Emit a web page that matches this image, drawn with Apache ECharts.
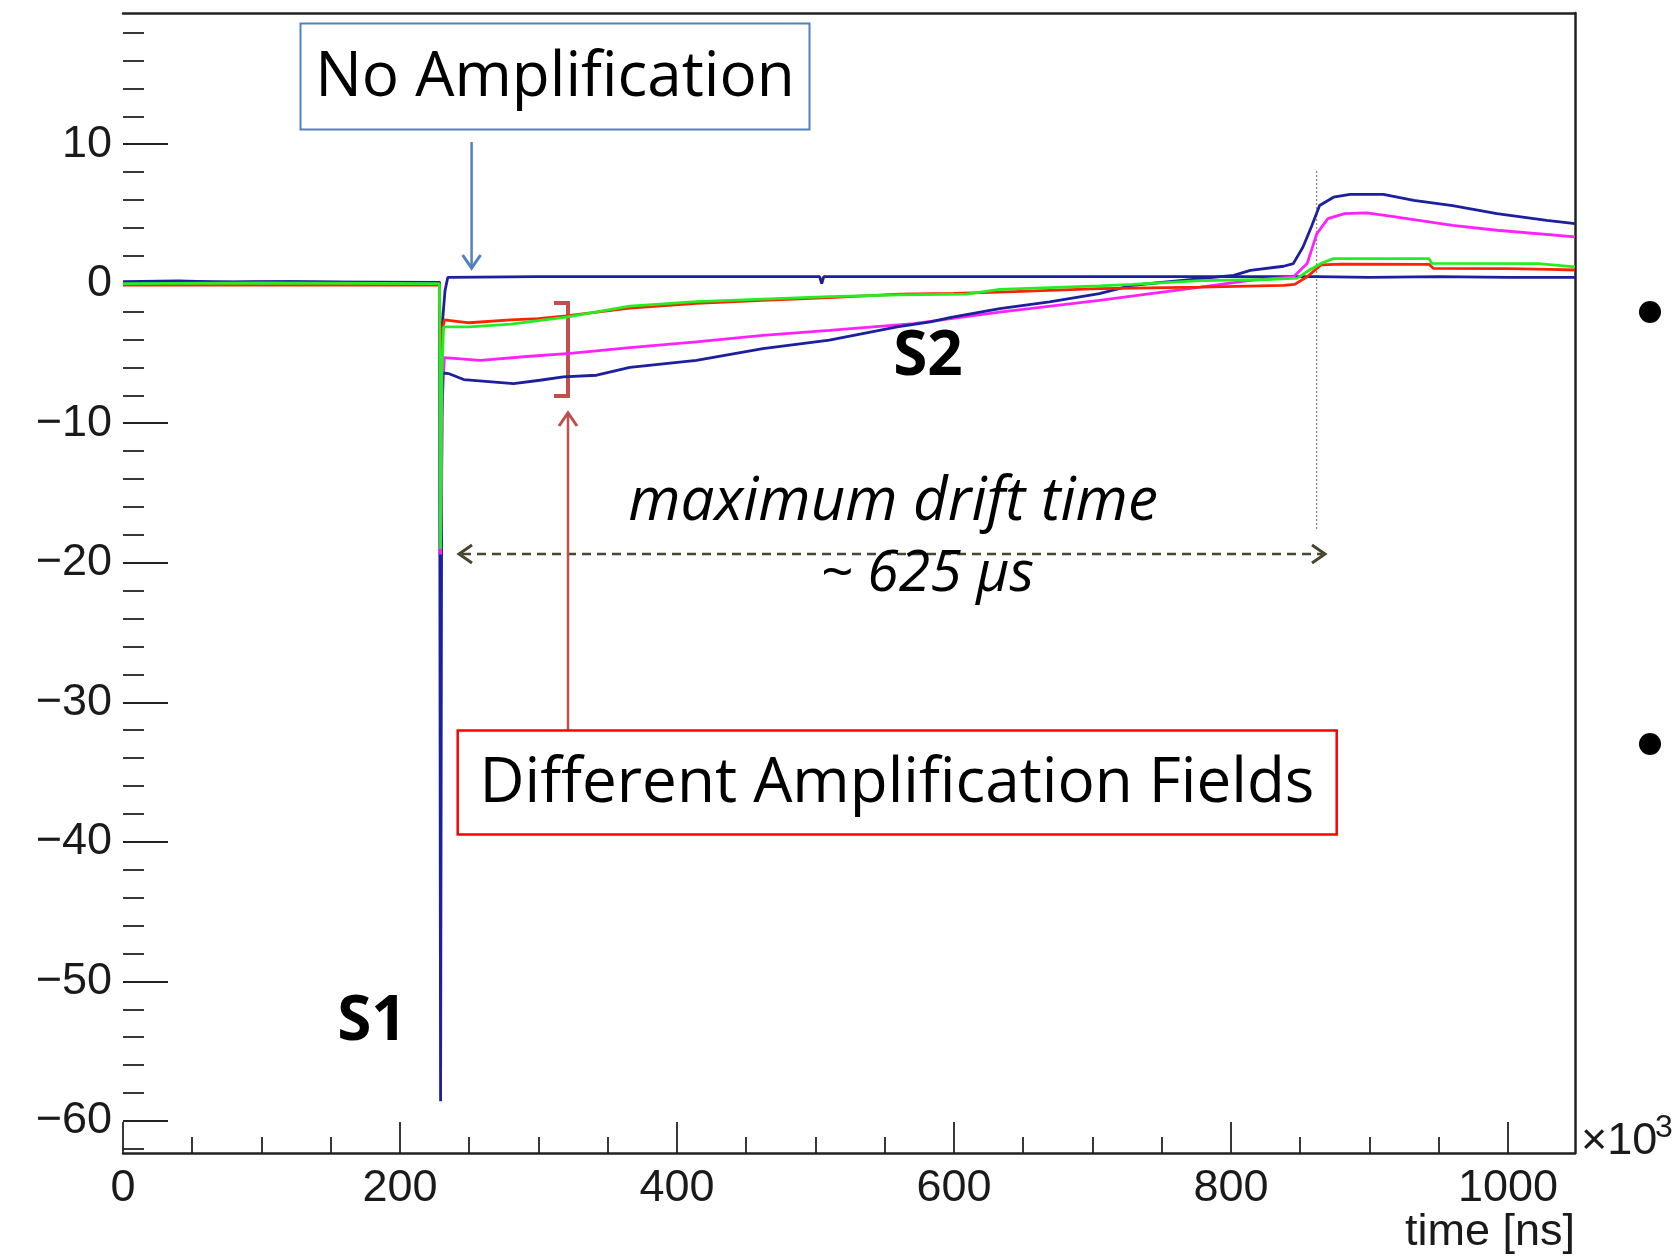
<!DOCTYPE html>
<html lang="en">
<head>
  <meta charset="UTF-8">
  <title>S1 / S2 waveforms</title>
  <script src="https://cdn.jsdelivr.net/npm/echarts/dist/echarts.min.js"></script>
  <style>
    html, body { margin: 0; padding: 0; background: #fff; }
    #chart { width: 1677px; height: 1256px; }
  </style>
</head>
<body>
  <div id="chart"></div>
  <script>
    // time in units of 10^3 ns, amplitude in arbitrary units
    const noAmp = [[0, 0.15], [40, 0.2], [80, 0.1], [120, 0.15], [160, 0.1], [200, 0.1], [228.5, 0.1],
      [229.3, -58.6], [230.3, -3.2], [232.5, -0.5], [234.5, 0.45], [300, 0.5], [400, 0.5], [503, 0.5],
      [504.5, 0.0], [506, 0.5], [600, 0.5], [700, 0.5], [800, 0.5], [862, 0.5], [900, 0.45], [950, 0.5],
      [1000, 0.45], [1048.4, 0.45]]
    const ampLow = [[0, -0.1], [100, -0.1], [228.5, -0.1], [229.3, -6.0], [230.3, -3.6], [232, -2.6],
      [250, -2.8], [280, -2.6], [300, -2.5], [320, -2.3], [366, -1.75], [414, -1.4], [462, -1.2],
      [510, -1.0], [561, -0.75], [600, -0.7], [633, -0.6], [705, -0.35], [778, -0.25], [838, -0.12],
      [846, -0.05], [855, 0.5], [865, 1.35], [880, 1.4], [943, 1.39], [946, 1.1], [1000, 1.08],
      [1030, 1.02], [1048.4, 0.98]]
    const ampMid = [[0, 0], [100, 0.05], [228.5, 0], [229.3, -19.0], [230.3, -6.2], [231.5, -3.1],
      [250, -3.1], [280, -2.9], [320, -2.4], [366, -1.6], [414, -1.28], [462, -1.1], [510, -0.92],
      [561, -0.8], [609, -0.75], [633, -0.4], [705, -0.15], [729, -0.05], [778, 0.22], [826, 0.3],
      [848, 0.4], [857, 1.0], [866, 1.5], [874, 1.8], [943, 1.8], [945, 1.45], [1022, 1.44], [1048.4, 1.2]]
    const ampHigh = [[0, 0.1], [100, 0.1], [228.5, 0.1], [229.3, -19.4], [230.8, -8], [232, -5.3],
      [258, -5.5], [294, -5.2], [323, -5.0], [366, -4.58], [414, -4.17], [462, -3.7], [510, -3.34],
      [571, -2.86], [633, -2.03], [705, -1.19], [778, -0.24], [814, 0.24], [845, 0.48], [855, 1.44],
      [862, 3.59], [870, 4.66], [882, 5.02], [898, 5.07], [915, 4.85], [932, 4.6], [960, 4.18],
      [992, 3.83], [1048.4, 3.35]]
    const ampMax = [[0, 0.1], [100, 0.15], [228.5, 0.1], [229.3, -12.5], [230.8, -6.4], [235, -6.44],
      [246, -6.87], [282, -7.16], [301, -6.92], [318, -6.68], [342, -6.56], [366, -6.0], [414, -5.49],
      [462, -4.65], [510, -4.05], [559, -3.1], [583, -2.74], [597, -2.43], [633, -1.79], [669, -1.31],
      [705, -0.71], [729, -0.11], [765, 0.24], [802, 0.6], [814, 0.96], [838, 1.25], [845, 1.44],
      [852, 2.63], [858, 4.06], [864, 5.6], [874, 6.2], [886, 6.4], [910, 6.4], [932, 5.97], [960, 5.6],
      [992, 5.02], [1028, 4.54], [1048.4, 4.3]]

    const W = 1677, H = 1256
    const GRID = { left: 123, right: 102, top: 13, bottom: 103 }
    const X_MIN = 0, X_MAX = 1048.4, Y_MIN = -62.3, Y_MAX = 19.4

    function yPix (v) {
      return GRID.top + (Y_MAX - v) / (Y_MAX - Y_MIN) * (H - GRID.top - GRID.bottom)
    }
    function xPix (v) {
      return GRID.left + (v - X_MIN) / (X_MAX - X_MIN) * (W - GRID.left - GRID.right)
    }

    const axisFont = 'Liberation Sans, Arial, sans-serif'
    const noteFont = '"Open Sans", "Noto Sans", sans-serif'
    const ink = '#1a1a1a'
    const frame = { show: true, onZero: false, lineStyle: { color: '#222', width: 2.5 } }
    const noLine = { show: false, onZero: false }
    const minus = v => String(v).replace('-', '\u2212')

    function trace (name, data, color) {
      return {
        name, type: 'line', data, xAxisIndex: 0, yAxisIndex: 0,
        showSymbol: false, silent: true, animation: false,
        lineStyle: { color, width: 2.8 }
      }
    }

    function chevron (x, y, dir, color) {
      // open arrow head, dir: 'up' | 'down' | 'left' | 'right'
      const s = 13
      const pts = {
        down: [[x - 9, y - s], [x, y], [x + 9, y - s]],
        up: [[x - 9, y + s], [x, y], [x + 9, y + s]],
        left: [[x + s, y - 9], [x, y], [x + s, y + 9]],
        right: [[x - s, y - 9], [x, y], [x - s, y + 9]]
      }[dir]
      return { type: 'polyline', shape: { points: pts }, style: { stroke: color, lineWidth: 3, fill: null } }
    }

    const chart = echarts.init(document.getElementById('chart'))

    chart.setOption({
      backgroundColor: '#fff',
      animation: false,
      grid: [
        { left: GRID.left, right: GRID.right, top: GRID.top, bottom: GRID.bottom },
        { left: GRID.left, width: xPix(1000) - GRID.left, top: GRID.top, bottom: GRID.bottom },
        { left: GRID.left, right: GRID.right, top: yPix(18), bottom: H - yPix(-62) },
        { left: GRID.left, right: GRID.right, top: yPix(10), bottom: H - yPix(-60) }
      ],
      xAxis: [
        {
          gridIndex: 0, type: 'value', min: X_MIN, max: X_MAX, position: 'bottom',
          axisLine: frame, axisTick: { show: false }, axisLabel: { show: false }, splitLine: { show: false }
        },
        {
          gridIndex: 0, type: 'value', min: X_MIN, max: X_MAX, position: 'top',
          axisLine: frame, axisTick: { show: false }, axisLabel: { show: false }, splitLine: { show: false }
        },
        {
          gridIndex: 1, type: 'value', min: 0, max: 1000, interval: 200,
          axisLine: noLine,
          axisTick: { show: true, inside: true, length: 31, lineStyle: { color: '#222', width: 1.8 } },
          minorTick: { show: true, splitNumber: 4, length: 16, lineStyle: { color: '#222', width: 1.8 } },
          axisLabel: { fontFamily: axisFont, fontSize: 45, color: ink, margin: 13, formatter: v => String(v) },
          splitLine: { show: false }, minorSplitLine: { show: false }
        },
        { gridIndex: 2, type: 'value', show: false, min: 0, max: 1 },
        { gridIndex: 3, type: 'value', show: false, min: 0, max: 1 }
      ],
      yAxis: [
        { gridIndex: 0, type: 'value', min: Y_MIN, max: Y_MAX, show: false },
        {
          gridIndex: 0, type: 'value', min: Y_MIN, max: Y_MAX, position: 'right',
          axisLine: frame, axisTick: { show: false }, axisLabel: { show: false }, splitLine: { show: false }
        },
        { gridIndex: 1, type: 'value', show: false, min: 0, max: 1 },
        {
          gridIndex: 2, type: 'value', min: -62, max: 18, interval: 2,
          axisLine: noLine,
          axisTick: { show: true, inside: true, length: 21, lineStyle: { color: '#222', width: 1.8 } },
          axisLabel: { show: false }, splitLine: { show: false }
        },
        {
          gridIndex: 3, type: 'value', min: -60, max: 10, interval: 10,
          axisLine: noLine,
          axisTick: { show: true, inside: true, length: 45, lineStyle: { color: '#222', width: 1.8 } },
          axisLabel: { fontFamily: axisFont, fontSize: 45, color: ink, margin: 11, formatter: minus },
          splitLine: { show: false }
        }
      ],
      series: [
        trace('no amplification', noAmp, '#1c1f9e'),
        trace('field 3', ampHigh, '#ff22ff'),
        trace('field 4', ampMax, '#1c1f9e'),
        trace('field 1', ampLow, '#ff2200'),
        trace('field 2', ampMid, '#22ee22')
      ],
      graphic: [
        // axis title and exponent
        {
          type: 'text', x: W - GRID.right, y: 1233,
          style: { text: 'time [ns]', font: '45px ' + axisFont, fill: ink, align: 'right', verticalAlign: 'middle' }
        },
        {
          type: 'text', x: 1581, y: 1142,
          style: { text: '\u00d710', font: '45px ' + axisFont, fill: ink, align: 'left', verticalAlign: 'middle' }
        },
        {
          type: 'text', x: 1655, y: 1128,
          style: { text: '3', font: '32px ' + axisFont, fill: ink, align: 'left', verticalAlign: 'middle' }
        },
        // dotted line marking end of drift
        {
          type: 'line', shape: { x1: 1316.6, y1: 171, x2: 1316.6, y2: 529 },
          style: { stroke: '#888', lineWidth: 1.3, lineDash: [2, 2] }
        },
        // drift time arrow
        {
          type: 'line', shape: { x1: 462, y1: 554, x2: 1322, y2: 554 },
          style: { stroke: '#4a4530', lineWidth: 2.5, lineDash: [9, 6] }
        },
        chevron(459, 554, 'left', '#4a4530'),
        chevron(1325, 554, 'right', '#4a4530'),
        {
          type: 'text', x: 893, y: 503,
          style: { text: 'maximum drift time', font: 'italic 60px ' + noteFont, fill: '#000', align: 'center', verticalAlign: 'middle' }
        },
        {
          type: 'text', x: 927, y: 575,
          style: { text: '~ 625 \u00b5s', font: 'italic 57px ' + noteFont, fill: '#000', align: 'center', verticalAlign: 'middle' }
        },
        // no amplification note
        {
          type: 'rect', shape: { x: 300.5, y: 23.5, width: 509, height: 106 },
          style: { fill: '#fff', stroke: '#4f81bd', lineWidth: 2 }
        },
        {
          type: 'text', x: 555, y: 78,
          style: { text: 'No Amplification', font: '62px ' + noteFont, fill: '#000', align: 'center', verticalAlign: 'middle' }
        },
        {
          type: 'line', shape: { x1: 471.6, y1: 142, x2: 471.6, y2: 267 },
          style: { stroke: '#4f81bd', lineWidth: 2.5 }
        },
        chevron(471.6, 268, 'down', '#4f81bd'),
        // amplification fields note
        {
          type: 'polyline', shape: { points: [[554, 303], [568, 303], [568, 396], [554, 396]] },
          style: { stroke: '#c0504d', lineWidth: 4, fill: null }
        },
        {
          type: 'line', shape: { x1: 568, y1: 730, x2: 568, y2: 414 },
          style: { stroke: '#c0504d', lineWidth: 2.5 }
        },
        chevron(568, 413, 'up', '#c0504d'),
        {
          type: 'rect', shape: { x: 457.7, y: 730.5, width: 879, height: 104 },
          style: { fill: '#fff', stroke: '#ff0000', lineWidth: 2.5 }
        },
        {
          type: 'text', x: 897, y: 784,
          style: { text: 'Different Amplification Fields', font: '62px ' + noteFont, fill: '#000', align: 'center', verticalAlign: 'middle' }
        },
        // signal labels
        {
          type: 'text', x: 928, y: 357,
          style: { text: 'S2', font: 'bold 62px ' + noteFont, fill: '#000', align: 'center', verticalAlign: 'middle' }
        },
        {
          type: 'text', x: 372, y: 1022,
          style: { text: 'S1', font: 'bold 62px ' + noteFont, fill: '#000', align: 'center', verticalAlign: 'middle' }
        },
        // slide bullets cut at the edge
        { type: 'circle', shape: { cx: 1650, cy: 312, r: 11 }, style: { fill: '#000' } },
        { type: 'circle', shape: { cx: 1650, cy: 744, r: 11 }, style: { fill: '#000' } }
      ]
    })
  </script>
</body>
</html>
